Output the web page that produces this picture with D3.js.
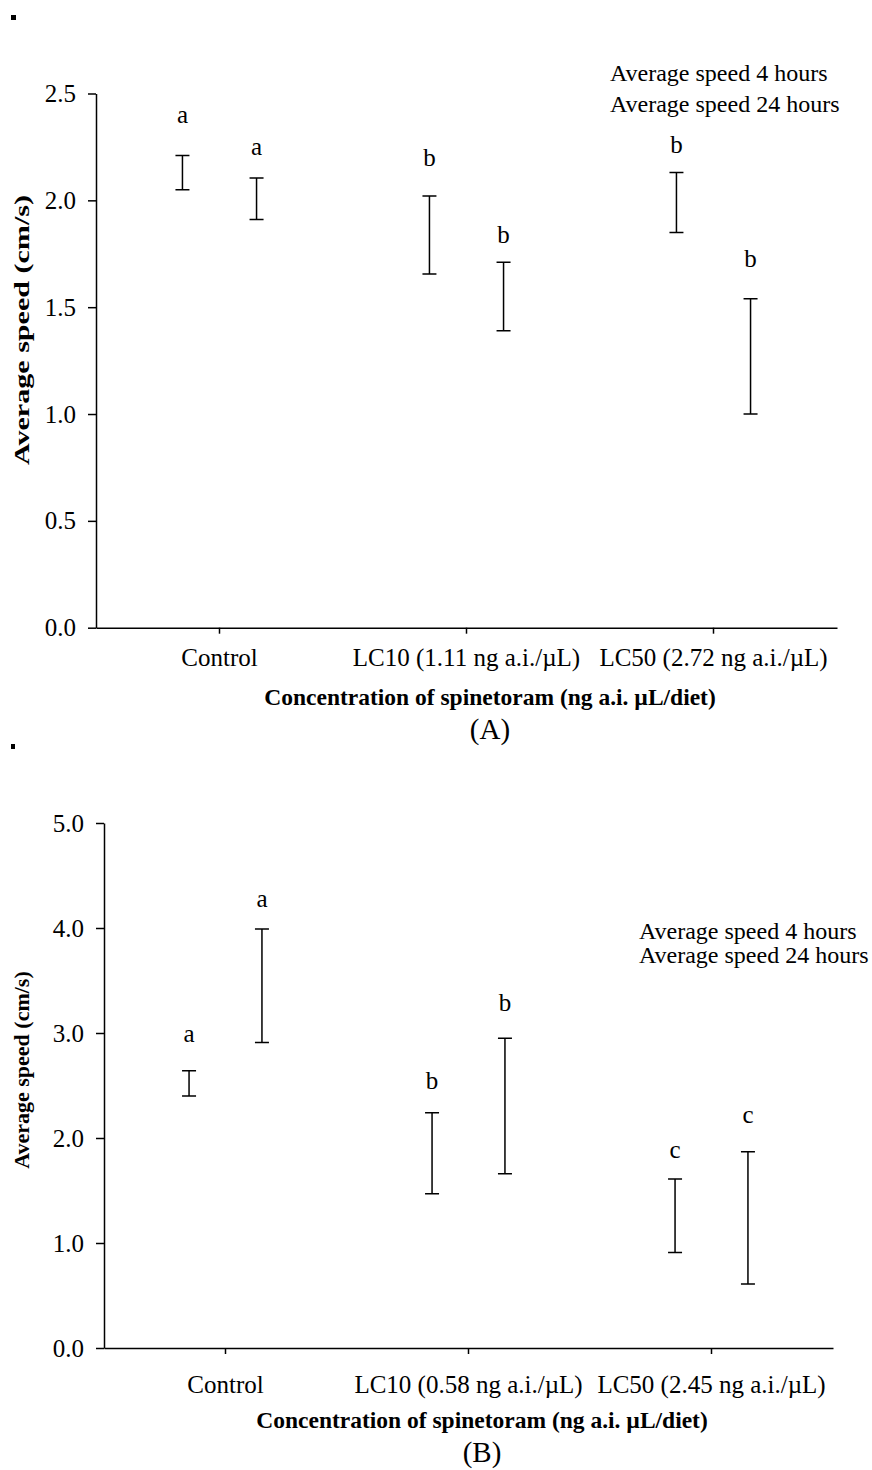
<!DOCTYPE html>
<html>
<head>
    <title>Average speed after spinetoram exposure</title>
    <script src="https://d3js.org/d3.v7.min.js"></script>
    <style>
        body {
            margin: 0;
            background: #fff;
        }

        svg {
            display: block;
            font-family: "Liberation Serif", "Times New Roman", serif;
        }

        .axis path,
        .axis line {
            stroke: #000;
            stroke-width: 1.5;
        }

        .axis text {
            font-family: "Liberation Serif", "Times New Roman", serif;
            font-size: 25px;
            fill: #000;
        }

        .errbar {
            stroke: #000;
            stroke-width: 1.5;
            fill: none;
        }

        .letter {
            font-size: 25px;
            text-anchor: middle;
        }

        .legend {
            font-size: 24px;
        }

        .title {
            font-size: 23.5px;
            font-weight: bold;
            text-anchor: middle;
        }

        .caption {
            font-size: 29px;
            text-anchor: middle;
        }
    </style>
</head>
<body>
    <svg id="chart" width="872" height="1470"></svg>

    <script>
        // Series (legend has text only, no swatches)
        const series = ["Average speed 4 hours", "Average speed 24 hours"];

        // Panel A
        const categoriesA = ["Control", "LC10 (1.11 ng a.i./\u00b5L)", "LC50 (2.72 ng a.i./\u00b5L)"];
        const ticksA = [0, 0.5, 1.0, 1.5, 2.0, 2.5];
        const lowA4 = [2.05, 1.655, 1.85];
        const highA4 = [2.21, 2.02, 2.13];
        const lowA24 = [1.91, 1.39, 1.0];
        const highA24 = [2.105, 1.71, 1.54];
        const lettersA4 = ["a", "b", "b"];
        const lettersA24 = ["a", "b", "b"];
        const letterPosA4 = [2.36, 2.16, 2.22];
        const letterPosA24 = [2.21, 1.80, 1.69];

        // Panel B
        const categoriesB = ["Control", "LC10 (0.58 ng a.i./\u00b5L)", "LC50 (2.45 ng a.i./\u00b5L)"];
        const ticksB = [0, 1, 2, 3, 4, 5];
        const lowB4 = [2.40, 1.47, 0.91];
        const highB4 = [2.64, 2.24, 1.61];
        const lowB24 = [2.91, 1.66, 0.61];
        const highB24 = [3.99, 2.95, 1.87];
        const lettersB4 = ["a", "b", "c"];
        const lettersB24 = ["a", "b", "c"];
        const letterPosB4 = [2.91, 2.47, 1.81];
        const letterPosB24 = [4.20, 3.21, 2.14];

        const svg = d3.select("#chart");

        // small stray marks in the corner of each panel
        svg.append("rect").attr("x", 11).attr("y", 15).attr("width", 5).attr("height", 5).attr("fill", "#000");
        svg.append("rect").attr("x", 11).attr("y", 744).attr("width", 4).attr("height", 5).attr("fill", "#000");

        function drawPanel(p) {
            const g = svg.append("g");

            const x = d3.scaleBand()
                .domain(p.categories)
                .range([p.left, p.right]);

            const x1 = d3.scaleBand()
                .domain(series)
                .range([x.bandwidth() * 0.2, x.bandwidth() * 0.8]);

            const y = d3.scaleLinear()
                .domain([0, p.ticks[p.ticks.length - 1]])
                .range([p.bottom, p.top]);

            // y axis
            g.append("g")
                .attr("class", "axis")
                .attr("transform", `translate(${p.left},0)`)
                .call(d3.axisLeft(y).tickValues(p.ticks).tickFormat(d3.format(".1f"))
                    .tickSize(8).tickSizeOuter(0).tickPadding(12));

            // x axis
            g.append("g")
                .attr("class", "axis")
                .attr("transform", `translate(0,${p.bottom})`)
                .call(d3.axisBottom(x).tickSize(6).tickSizeOuter(0).tickPadding(p.xPad));

            // error bars
            const rows = [];
            p.categories.forEach((c, i) => {
                rows.push({cat: c, s: series[0], lo: p.low4[i], hi: p.high4[i], letter: p.letters4[i], lp: p.letterPos4[i]});
                rows.push({cat: c, s: series[1], lo: p.low24[i], hi: p.high24[i], letter: p.letters24[i], lp: p.letterPos24[i]});
            });

            const cap = 7;
            const bars = g.selectAll(".eb")
                .data(rows)
                .enter()
                .append("g")
                .attr("transform", d => `translate(${x(d.cat) + x1(d.s) + x1.bandwidth() / 2},0)`);

            bars.append("path")
                .attr("class", "errbar")
                .attr("d", d => `M${-cap},${y(d.hi)}H${cap}M0,${y(d.hi)}V${y(d.lo)}M${-cap},${y(d.lo)}H${cap}`);

            bars.append("text")
                .attr("class", "letter")
                .attr("y", d => y(d.lp))
                .text(d => d.letter);

            // legend
            const leg = g.append("g").attr("class", "legend")
                .attr("transform", `translate(${p.legX},${p.legY})`);
            leg.selectAll("text")
                .data(series)
                .enter()
                .append("text")
                .attr("y", (d, i) => i * p.legGap)
                .text(d => d);

            // titles
            const yt = g.append("text")
                .attr("class", "title")
                .attr("transform", `translate(${p.yTitleX},${p.yTitleY}) rotate(-90)`)
                .style("font-size", "22px")
                .text("Average speed (cm/s)");
            if (p.yTitleLen) {
                yt.attr("textLength", p.yTitleLen).attr("lengthAdjust", "spacingAndGlyphs");
            }

            g.append("text")
                .attr("class", "title")
                .attr("x", p.xTitleX)
                .attr("y", p.xTitleY)
                .text("Concentration of spinetoram (ng a.i. \u00b5L/diet)");

            g.append("text")
                .attr("class", "caption")
                .attr("x", p.xTitleX)
                .attr("y", p.capY)
                .text(p.caption);
        }

        drawPanel({
            categories: categoriesA, ticks: ticksA,
            low4: lowA4, high4: highA4, low24: lowA24, high24: highA24,
            letters4: lettersA4, letters24: lettersA24,
            letterPos4: letterPosA4, letterPos24: letterPosA24,
            left: 96, right: 837, top: 93.5, bottom: 627.7, xPad: 15,
            legX: 610, legY: 81, legGap: 31,
            yTitleX: 29, yTitleY: 330, yTitleLen: 270,
            xTitleX: 490, xTitleY: 705, capY: 739, caption: "(A)"
        });

        drawPanel({
            categories: categoriesB, ticks: ticksB,
            low4: lowB4, high4: highB4, low24: lowB24, high24: highB24,
            letters4: lettersB4, letters24: lettersB24,
            letterPos4: letterPosB4, letterPos24: letterPosB24,
            left: 104, right: 833, top: 823, bottom: 1348, xPad: 21,
            legX: 639, legY: 939, legGap: 24,
            yTitleX: 29, yTitleY: 1070,
            xTitleX: 482, xTitleY: 1428, capY: 1462, caption: "(B)"
        });
    </script>
</body>
</html>
